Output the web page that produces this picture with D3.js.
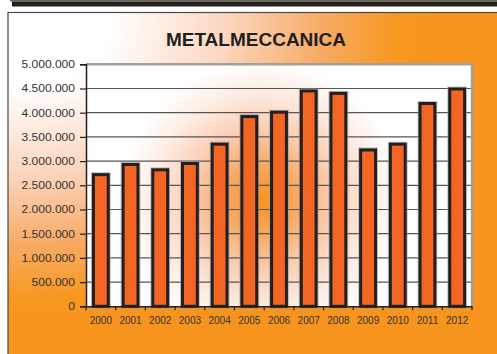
<!DOCTYPE html>
<html><head><meta charset="utf-8">
<script src="https://cdn.jsdelivr.net/npm/d3@7"></script>
<style>html,body{margin:0;padding:0;background:#fff;}svg{display:block;}</style>
</head><body>
<script>
const years = ["2000","2001","2002","2003","2004","2005","2006","2007","2008","2009","2010","2011","2012"];
const values = [2720000, 2930000, 2820000, 2950000, 3350000, 3920000, 4010000, 4450000, 4400000, 3230000, 3350000, 4190000, 4490000];
const yTicks = [0, 500000, 1000000, 1500000, 2000000, 2500000, 3000000, 3500000, 4000000, 4500000, 5000000];
const title = "METALMECCANICA";

const W = 497, H = 354;
const svg = d3.select("body").append("svg").attr("width", W).attr("height", H);
const defs = svg.append("defs");

const outer = defs.append("radialGradient").attr("id","outerG").attr("gradientUnits","userSpaceOnUse")
  .attr("cx",20).attr("cy",20).attr("r",420)
  .attr("gradientTransform","translate(20,20) scale(1,0.74) translate(-20,-20)");
[[0,"#ffffff"],[0.22,"#ffffff"],[0.5,"#fbd5bd"],[0.72,"#f8ab66"],[0.9,"#f7981f"],[1,"#f7941d"]]
  .forEach(([o,c])=>outer.append("stop").attr("offset",o).attr("stop-color",c));

const inner = defs.append("radialGradient").attr("id","innerG").attr("gradientUnits","userSpaceOnUse")
  .attr("cx",262).attr("cy",200).attr("r",140);
[[0,"#f7941d"],[0.22,"#f8a55a"],[0.5,"#fbcdb2"],[0.78,"#fdede4"],[1,"#ffffff"]]
  .forEach(([o,c])=>inner.append("stop").attr("offset",o).attr("stop-color",c));

// top dark bar
svg.append("rect").attr("x",10).attr("y",0).attr("width",W).attr("height",1.5).attr("fill","#6b6650");
svg.append("rect").attr("x",12).attr("y",1.5).attr("width",W).attr("height",5).attr("fill","#231f20");
// panel
svg.append("rect").attr("x",8).attr("y",12.5).attr("width",W).attr("height",H)
  .attr("fill","url(#outerG)").attr("stroke","#4a4a4a").attr("stroke-width",1.2);

svg.append("text").attr("x",256).attr("y",46).attr("text-anchor","middle")
  .attr("font-family","Liberation Sans, Arial, sans-serif").attr("font-weight","bold")
  .attr("font-size",19).attr("fill","#231f20").text(title);

const m = {left:86, right:472, top:64.3, bottom:306.3};
const x = d3.scaleBand().domain(years).range([m.left, m.right]).paddingInner(0).paddingOuter(0);
const y = d3.scaleLinear().domain([0,5000000]).range([m.bottom, m.top]);

// plot area
svg.append("rect").attr("x",m.left).attr("y",m.top).attr("width",m.right-m.left).attr("height",m.bottom-m.top)
  .attr("fill","url(#innerG)");
// gridlines
svg.append("g").selectAll("line").data(yTicks.filter(d=>d>0)).join("line")
  .attr("x1",m.left).attr("x2",m.right).attr("y1",d=>y(d)).attr("y2",d=>y(d))
  .attr("stroke","#555").attr("stroke-width",1.2);
// plot border top/right
svg.append("path").attr("d",`M${m.left},${m.top}H${m.right}V${m.bottom}`)
  .attr("fill","none").attr("stroke","#a0a0a0").attr("stroke-width",2.5);

// bars
const bw = x.bandwidth()*0.5;
const bg = svg.append("g");
bg.selectAll("rect.sh").data(years).join("rect").attr("class","sh")
  .attr("x",(d,i)=>x(d)+(x.bandwidth()-bw)/2).attr("y",(d,i)=>y(values[i]))
  .attr("width",bw).attr("height",(d,i)=>m.bottom-y(values[i]))
  .attr("fill","none").attr("stroke","#9a9a9a").attr("stroke-opacity",0.6).attr("stroke-width",5);
bg.selectAll("rect.bar").data(years).join("rect").attr("class","bar")
  .attr("x",(d,i)=>x(d)+(x.bandwidth()-bw)/2).attr("y",(d,i)=>y(values[i]))
  .attr("width",bw).attr("height",(d,i)=>m.bottom-y(values[i]))
  .attr("fill","#f26522").attr("stroke","#231f20").attr("stroke-width",3);

const fmt = d => d3.format(",")(d).replace(/,/g,".");
const yAxis = svg.append("g").attr("transform",`translate(${m.left},0)`)
  .call(d3.axisLeft(y).tickValues(yTicks).tickFormat(fmt).tickSize(6).tickPadding(0));
yAxis.select(".domain").attr("stroke","#231f20").attr("stroke-width",1.5);
yAxis.selectAll(".tick line").attr("stroke","#231f20").attr("stroke-width",1.2);
yAxis.selectAll(".tick text").attr("x",-9.4).attr("transform","scale(1.17,1)")
  .attr("font-family","Liberation Sans, Arial, sans-serif").attr("font-size",10.3).attr("fill","#333");

const xAxis = svg.append("g").attr("transform",`translate(0,${m.bottom})`)
  .call(d3.axisBottom(x).tickSize(0).tickPadding(11));
xAxis.select(".domain").attr("stroke","#231f20").attr("stroke-width",1.5);
xAxis.selectAll(".tick text").attr("font-family","Liberation Sans, Arial, sans-serif")
  .attr("font-size",10).attr("fill","#333");
// category boundary ticks
svg.append("g").selectAll("line").data(d3.range(years.length+1)).join("line")
  .attr("x1",i=>m.left+i*x.step()).attr("x2",i=>m.left+i*x.step())
  .attr("y1",m.bottom).attr("y2",m.bottom+4).attr("stroke","#231f20").attr("stroke-width",1.2);
</script>
</body></html>
